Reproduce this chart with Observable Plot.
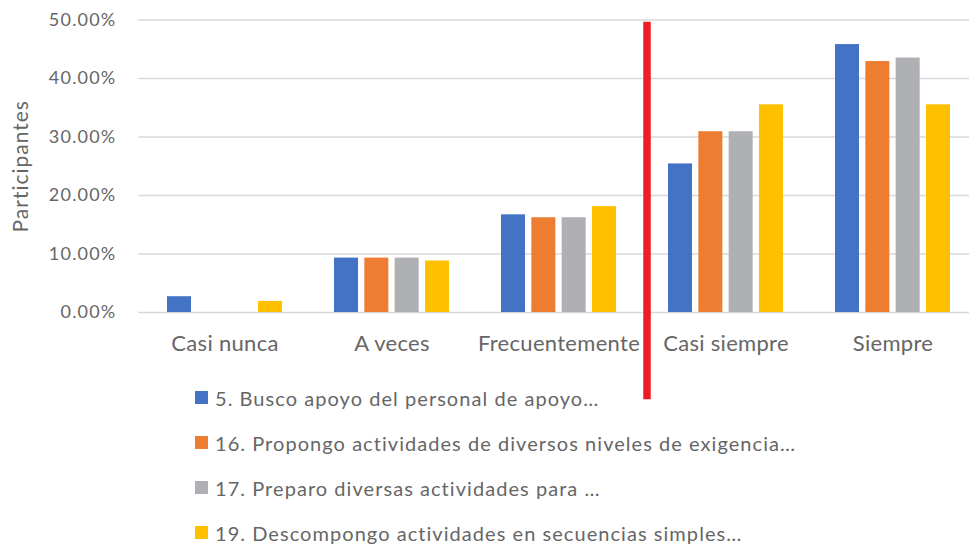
<!DOCTYPE html>
<html><head><meta charset="utf-8">
<script src="https://cdn.jsdelivr.net/npm/d3@7"></script>
<script src="https://cdn.jsdelivr.net/npm/@observablehq/plot@0.6"></script>
<style>
body{margin:0;background:#fff;font-family:Lato,sans-serif;}
#chart{width:969px;height:546px;position:relative;overflow:hidden}
#chart svg{display:block;overflow:visible}
#chart g[aria-label="y-axis tick label"] text{letter-spacing:1.2px}
#chart g[aria-label="y-axis label"] text{letter-spacing:1px}
#chart g[aria-label="x-axis tick label"] text{letter-spacing:0.3px}
.legend{position:relative;margin-top:-25px;margin-left:195px}
.legend .item{height:45px;display:flex;align-items:center;font-size:20px;letter-spacing:1.05px;color:#666;white-space:nowrap}
.legend .sw{width:13px;height:13px;margin-right:7px;flex:none}
</style></head><body><div id="chart"></div>
<script>
const categories = ["Casi nunca", "A veces", "Frecuentemente", "Casi siempre", "Siempre"];
const seriesNames = [
  "5. Busco apoyo del personal de apoyo…",
  "16. Propongo actividades de diversos niveles de exigencia…",
  "17. Preparo diversas actividades para …",
  "19. Descompongo actividades en secuencias simples…"
];
const item5  = [2.7, 9.3, 16.7, 25.4, 45.8];
const item16 = [0,   9.3, 16.2, 30.9, 42.9];
const item17 = [0,   9.3, 16.2, 30.9, 43.5];
const item19 = [1.9, 8.8, 18.1, 35.5, 35.5];
const seriesColors = ["#4472C4", "#ED7D31", "#AFB0B3", "#FFC000"];
const yTicks = [0, 10, 20, 30, 40, 50];
const dividerCategory = "Casi siempre";
const dividerSpan = [49.6, -14.9];

const seriesValues = [item5, item16, item17, item19];
const rows = [];
seriesValues.forEach((vals, k) => vals.forEach((v, i) => rows.push({cat: categories[i], k, value: v})));

const barStep = 30.33;
const textColor = "#666";

const bars = seriesValues.map((_, k) =>
  Plot.barY(rows.filter(d => d.k === k), {
    x: "cat", y: "value", fill: seriesColors[k],
    insetLeft: k * barStep, insetRight: (3 - k) * barStep
  })
);

const chart = Plot.plot({
  width: 969,
  height: 400,
  marginLeft: 138,
  marginRight: 0,
  marginTop: 19.5,
  marginBottom: 88,
  style: {fontFamily: "Lato, sans-serif", color: textColor, background: "transparent", overflow: "visible"},
  x: {type: "band", domain: categories, paddingInner: 0.314, paddingOuter: 0.136, align: 0.603},
  y: {domain: [0, 50]},
  marks: [
    Plot.ruleY(yTicks, {stroke: "#d9d9d9", strokeWidth: 1.3}),
    ...bars,
    Plot.axisY({ticks: yTicks, tickSize: 0, tickPadding: 22, fontSize: 18, fill: textColor,
      tickFormat: d => d.toFixed(2) + "%", label: null}),
    Plot.axisY({ticks: [], tickSize: 0, label: "Participantes", labelAnchor: "center", labelArrow: "none",
      labelOffset: 125, fontSize: 21, fill: textColor}),
    Plot.axisX({tickSize: 0, tickPadding: 23, fontSize: 22, fill: textColor, label: null}),
    Plot.ruleX([dividerCategory], {x: d => d, y1: dividerSpan[0], y2: dividerSpan[1],
      stroke: "#EE1D23", strokeWidth: 7.5, dx: -79, clip: false})
  ]
});

const root = document.getElementById("chart");
root.appendChild(chart);

const legend = document.createElement("div");
legend.className = "legend";
seriesNames.forEach((name, k) => {
  const item = document.createElement("div");
  item.className = "item";
  const sw = document.createElement("span");
  sw.className = "sw";
  sw.style.background = seriesColors[k];
  const label = document.createElement("span");
  label.textContent = name;
  item.appendChild(sw);
  item.appendChild(label);
  legend.appendChild(item);
});
root.appendChild(legend);
</script>
</body></html>
